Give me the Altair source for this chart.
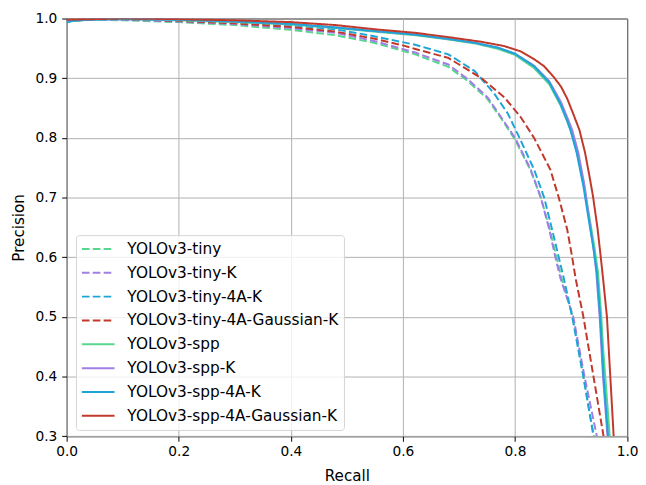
import altair as alt
import pandas as pd

names = ["YOLOv3-tiny", "YOLOv3-tiny-K", "YOLOv3-tiny-4A-K", "YOLOv3-tiny-4A-Gaussian-K",
         "YOLOv3-spp", "YOLOv3-spp-K", "YOLOv3-spp-4A-K", "YOLOv3-spp-4A-Gaussian-K"]
colors = ["#58d68d", "#a07ee6", "#1ea5d8", "#c0392b",
          "#58d68d", "#a07ee6", "#1ea5d8", "#c0392b"]
dashes = [[7.7, 3.3], [7.7, 3.3], [7.7, 3.3], [7.7, 3.3],
          [1, 0], [1, 0], [1, 0], [1, 0]]

# YOLOv3-tiny (dashed green)
tiny_r = [0.0, 0.05, 0.1, 0.2, 0.3, 0.4, 0.48, 0.55, 0.622, 0.681, 0.716, 0.751, 0.775, 0.80,
          0.828, 0.846, 0.862, 0.874, 0.883, 0.903, 0.922, 0.931, 0.941]
tiny_p = [0.997, 0.998, 0.997, 0.994, 0.989, 0.981, 0.972, 0.959, 0.940, 0.919, 0.895, 0.865, 0.833, 0.797,
          0.745, 0.70, 0.647, 0.60, 0.565, 0.50, 0.40, 0.35, 0.30]
# YOLOv3-tiny-K (dashed purple)
tinyk_r = [0.0, 0.05, 0.1, 0.2, 0.3, 0.4, 0.48, 0.55, 0.622, 0.681, 0.716, 0.751, 0.775, 0.80,
           0.828, 0.846, 0.861, 0.872, 0.881, 0.904, 0.924, 0.935, 0.946]
tinyk_p = [0.997, 0.999, 0.998, 0.995, 0.991, 0.984, 0.976, 0.962, 0.943, 0.923, 0.898, 0.868, 0.835, 0.80,
           0.747, 0.70, 0.647, 0.60, 0.565, 0.50, 0.40, 0.35, 0.30]
# YOLOv3-tiny-4A-K (dashed blue)
tiny4a_r = [0.0, 0.05, 0.1, 0.2, 0.3, 0.4, 0.48, 0.55, 0.622, 0.681, 0.728, 0.763, 0.787, 0.808,
            0.834, 0.852, 0.866, 0.878, 0.887, 0.902, 0.922, 0.931, 0.94]
tiny4a_p = [0.996, 0.999, 0.999, 0.997, 0.993, 0.989, 0.982, 0.970, 0.956, 0.940, 0.912, 0.874, 0.841, 0.80,
            0.747, 0.70, 0.647, 0.60, 0.565, 0.50, 0.40, 0.35, 0.30]
# YOLOv3-tiny-4A-Gaussian-K (dashed red)
tinyg_r = [0.0, 0.05, 0.1, 0.2, 0.3, 0.4, 0.48, 0.55, 0.6, 0.622, 0.681, 0.74, 0.781, 0.81, 0.834,
           0.863, 0.878, 0.893, 0.902, 0.908, 0.922, 0.94, 0.949, 0.958]
tinyg_p = [0.998, 0.999, 0.999, 0.996, 0.992, 0.986, 0.978, 0.966, 0.955, 0.949, 0.934, 0.90, 0.868, 0.835, 0.80,
           0.747, 0.70, 0.647, 0.60, 0.565, 0.50, 0.40, 0.35, 0.30]
# YOLOv3-spp (solid green)
spp_r = [0.0, 0.04, 0.1, 0.2, 0.3, 0.4, 0.48, 0.55, 0.622, 0.68, 0.73, 0.77, 0.8, 0.834, 0.861, 0.881,
         0.893, 0.9, 0.911, 0.923, 0.934, 0.942, 0.948, 0.954, 0.957, 0.961, 0.965, 0.969]
spp_p = [0.995, 0.998, 0.999, 0.997, 0.994, 0.990, 0.984, 0.978, 0.972, 0.965, 0.958, 0.949, 0.939, 0.917, 0.89, 0.855,
         0.828, 0.81, 0.775, 0.72, 0.66, 0.615, 0.575, 0.50, 0.45, 0.40, 0.35, 0.30]
# YOLOv3-spp-K (solid purple)
sppk_r = [0.0, 0.04, 0.1, 0.2, 0.3, 0.4, 0.48, 0.55, 0.622, 0.68, 0.73, 0.77, 0.8, 0.834, 0.861, 0.882,
          0.895, 0.902, 0.913, 0.924, 0.933, 0.94, 0.945, 0.951, 0.954, 0.957, 0.961, 0.965]
sppk_p = [0.996, 0.998, 0.999, 0.998, 0.995, 0.991, 0.985, 0.979, 0.973, 0.966, 0.959, 0.951, 0.941, 0.921, 0.895, 0.86,
          0.83, 0.813, 0.775, 0.72, 0.66, 0.615, 0.575, 0.50, 0.45, 0.40, 0.35, 0.30]
# YOLOv3-spp-4A-K (solid blue)
spp4a_r = [0.0, 0.01, 0.04, 0.1, 0.2, 0.3, 0.4, 0.48, 0.55, 0.622, 0.68, 0.73, 0.77, 0.8, 0.834, 0.861,
           0.881, 0.893, 0.899, 0.91, 0.922, 0.932, 0.94, 0.946, 0.952, 0.955, 0.958, 0.962, 0.966]
spp4a_p = [0.993, 0.996, 0.998, 0.999, 0.998, 0.995, 0.991, 0.985, 0.979, 0.973, 0.966, 0.959, 0.951, 0.941, 0.92, 0.893,
           0.857, 0.829, 0.813, 0.775, 0.719, 0.66, 0.615, 0.575, 0.50, 0.45, 0.40, 0.35, 0.30]
# YOLOv3-spp-4A-Gaussian-K (solid red)
sppg_r = [0.0, 0.05, 0.1, 0.2, 0.3, 0.4, 0.48, 0.55, 0.622, 0.68, 0.74, 0.78, 0.81, 0.834, 0.852, 0.869, 0.882,
          0.893, 0.904, 0.915, 0.925, 0.932, 0.939, 0.947, 0.953, 0.957, 0.964, 0.967, 0.97, 0.973, 0.976]
sppg_p = [0.998, 0.999, 1.0, 0.999, 0.997, 0.994, 0.989, 0.982, 0.976, 0.969, 0.961, 0.954, 0.945, 0.932, 0.92, 0.902,
          0.886, 0.866, 0.84, 0.813, 0.775, 0.74, 0.703, 0.65, 0.60, 0.565, 0.50, 0.45, 0.40, 0.35, 0.30]

series = [(tiny_r, tiny_p), (tinyk_r, tinyk_p), (tiny4a_r, tiny4a_p), (tinyg_r, tinyg_p),
          (spp_r, spp_p), (sppk_r, sppk_p), (spp4a_r, spp4a_p), (sppg_r, sppg_p)]

rows = []
for name, (rs, ps) in zip(names, series):
    for i, (r, p) in enumerate(zip(rs, ps)):
        rows.append({"model": name, "recall": r, "precision": p, "idx": i})
df = pd.DataFrame(rows)

FONT = "DejaVu Sans"
FS = 13.9
FS_BIG = 15.3

leg = alt.Legend(
    title=None, orient="none", legendX=9.4, legendY=219,
    symbolType="M-1,0H3.125", symbolSize=256, symbolStrokeWidth=2,
    symbolFillColor="transparent",
    labelFont=FONT, labelFontSize=15.5, labelColor="black", labelOffset=29, labelLimit=400,
    rowPadding=6.1, padding=5, strokeColor="#d5d5d5", fillColor="rgba(255,255,255,0.8)",
    cornerRadius=3, columns=1,
)

xaxis = alt.Axis(
    values=[0, 0.2, 0.4, 0.6, 0.8, 1.0], format=".1f", labelFlush=False,
    tickSize=5, tickColor="black", tickWidth=1, domain=False,
    grid=True, gridColor="#b0b0b0", gridWidth=1,
    labelFont=FONT, labelFontSize=FS, labelColor="black", labelPadding=3.5,
    titleFont=FONT, titleFontSize=FS_BIG, titleFontWeight="normal", titleColor="black",
    titleX=283.3, titleY=44.5, titleBaseline="alphabetic", titleAlign="center",
)
yaxis = alt.Axis(
    values=[0.3, 0.4, 0.5, 0.6, 0.7, 0.8, 0.9, 1.0], format=".1f",
    tickSize=5, tickColor="black", tickWidth=1, domain=False,
    grid=True, gridColor="#b0b0b0", gridWidth=1,
    labelFont=FONT, labelFontSize=FS, labelColor="black", labelPadding=5,
    titleFont=FONT, titleFontSize=FS_BIG, titleFontWeight="normal", titleColor="black",
    titleX=-43.3, titleY=211.2, titleAngle=270, titleBaseline="alphabetic", titleAlign="center",
)

chart = alt.Chart(df).mark_line(strokeWidth=2, clip=True).encode(
    x=alt.X("recall:Q", title="Recall",
            scale=alt.Scale(domain=[0, 1], nice=False, zero=False), axis=xaxis),
    y=alt.Y("precision:Q", title="Precision",
            scale=alt.Scale(domain=[0.3, 1.0], nice=False, zero=False), axis=yaxis),
    color=alt.Color("model:N", sort=names, scale=alt.Scale(domain=names, range=colors), legend=leg),
    strokeDash=alt.StrokeDash("model:N", sort=names, scale=alt.Scale(domain=names, range=dashes), legend=leg),
    order=alt.Order("idx:Q"),
).properties(
    width=566.7, height=422.4,
    autosize=alt.AutoSizeParams(type="none"),
    padding={"left": 59.3, "top": 8, "right": 11, "bottom": 46},
    background="white",
).configure_view(stroke="black", strokeWidth=1)

chart.save("out.html", embed_options={"renderer": "svg", "actions": False})
